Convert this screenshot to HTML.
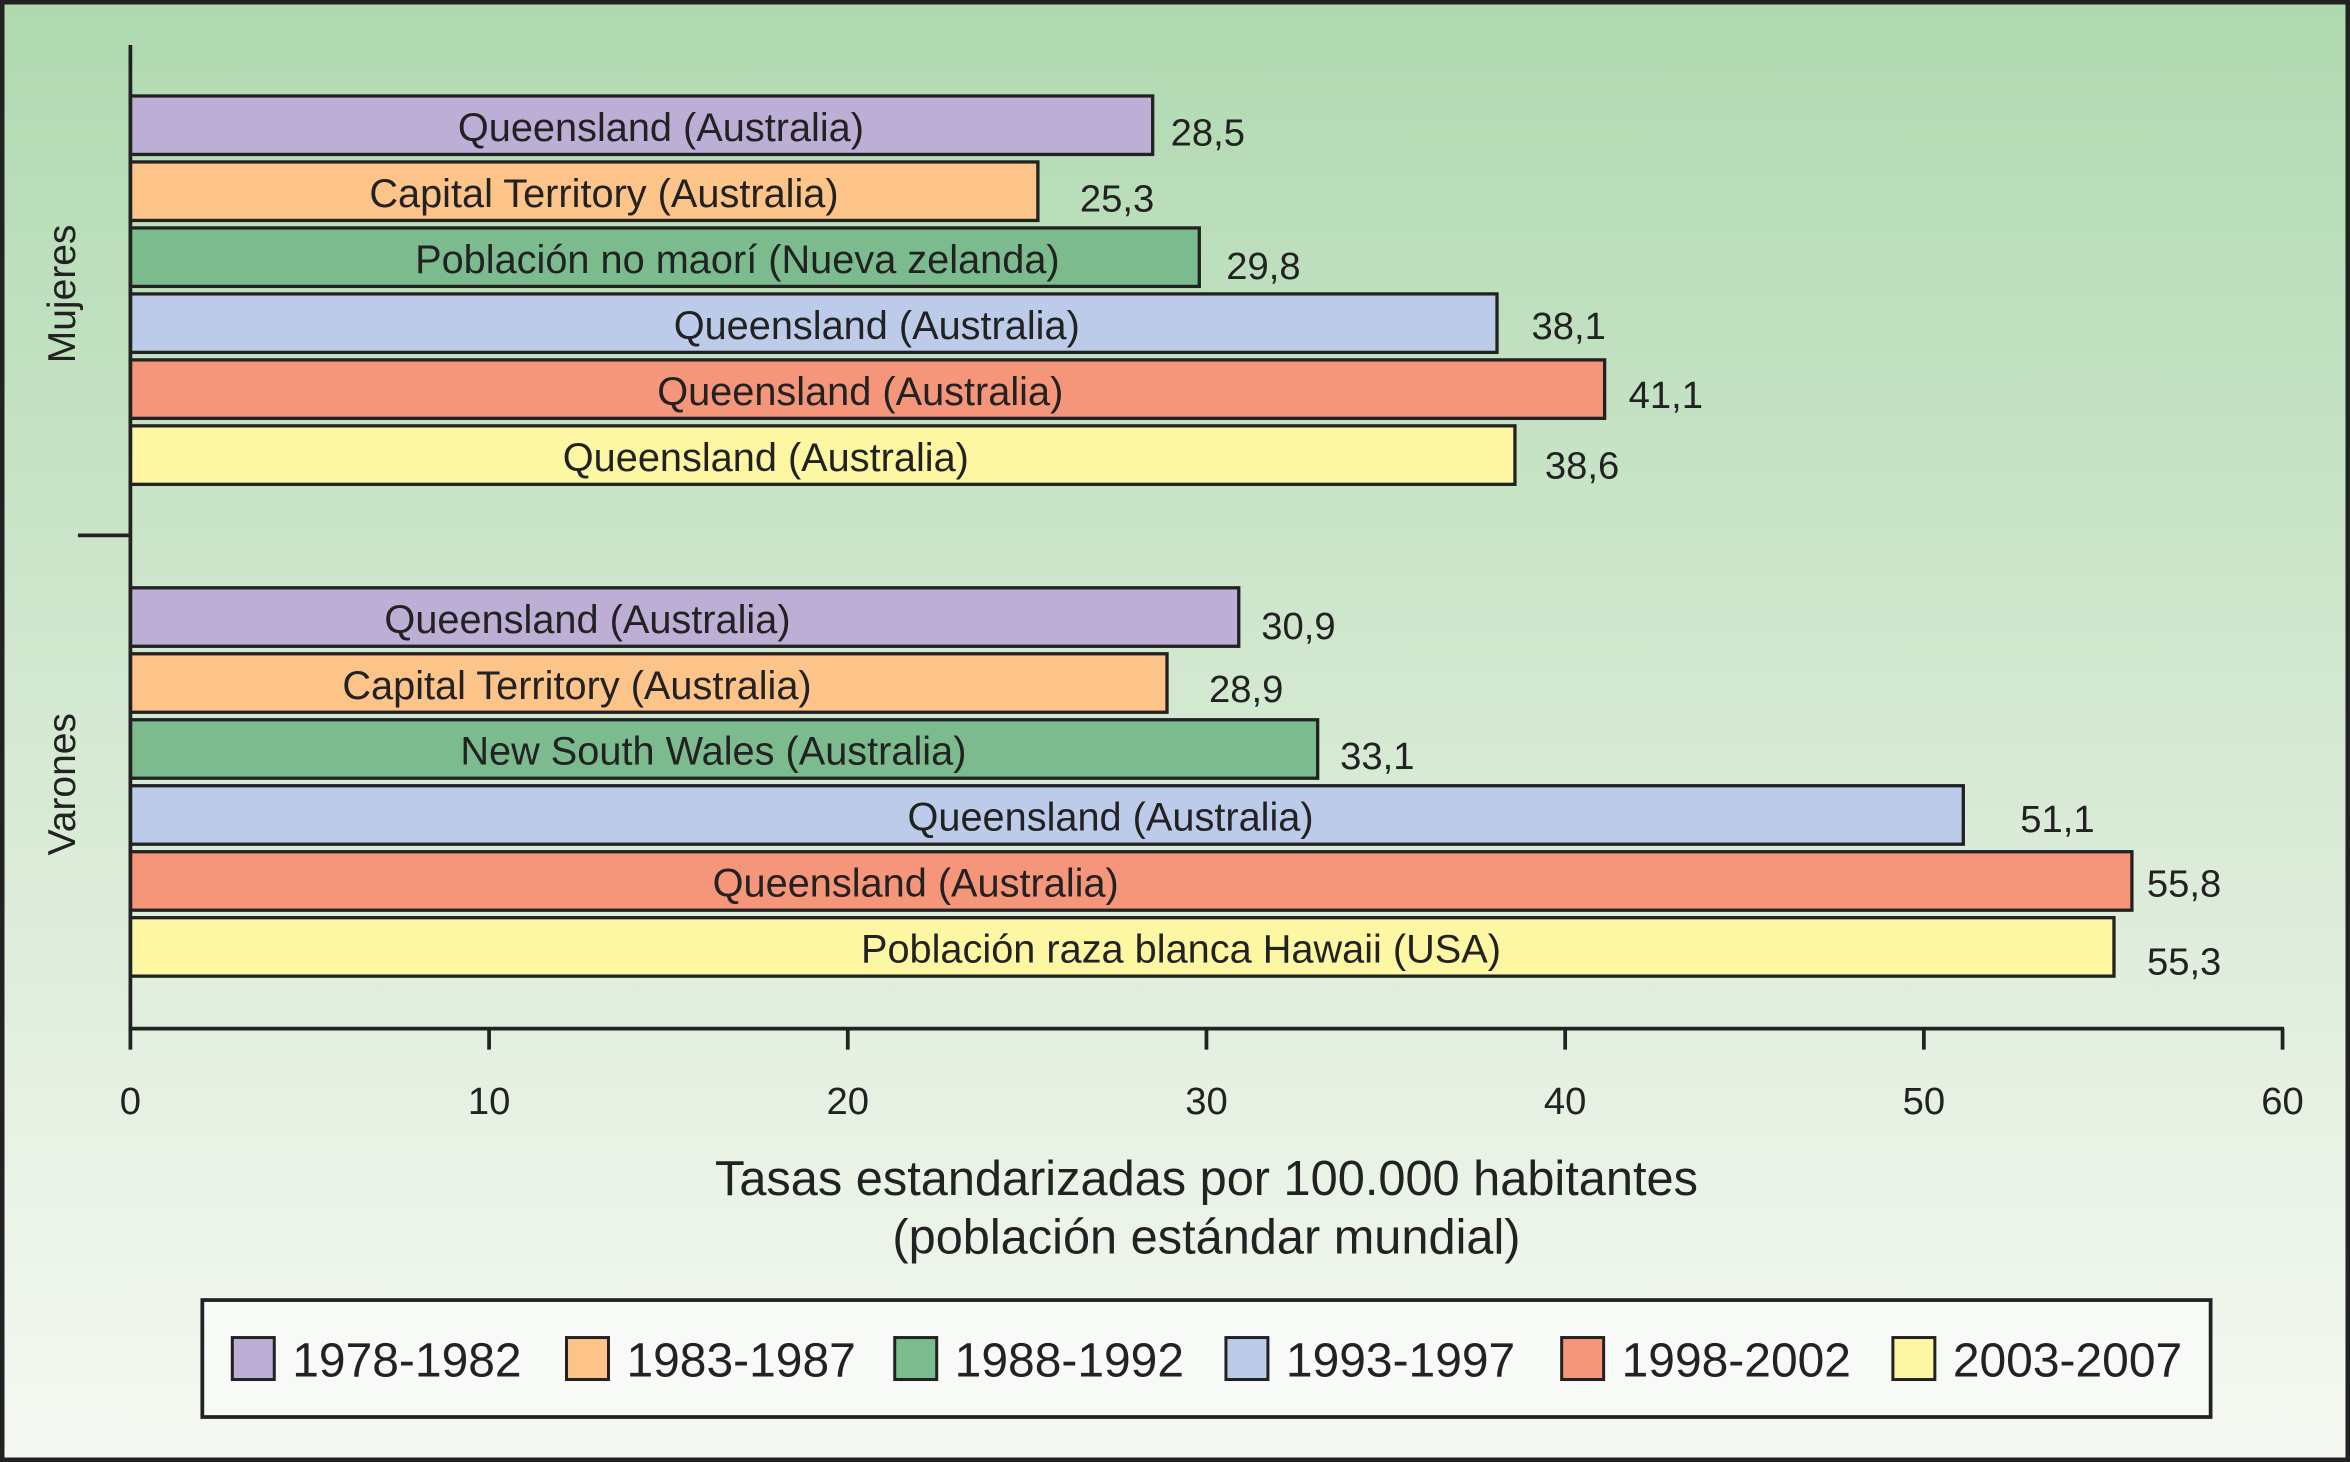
<!DOCTYPE html>
<html><head><meta charset="utf-8"><style>
html,body{margin:0;padding:0;width:2350px;height:1462px;overflow:hidden}
svg{display:block;font-family:"Liberation Sans",sans-serif}
</style></head><body>
<svg id="chart" width="2350" height="1462" viewBox="0 0 1568 975" preserveAspectRatio="none" xmlns="http://www.w3.org/2000/svg">
<defs><linearGradient id="bg" x1="0" y1="0" x2="0" y2="1">
<stop offset="0" stop-color="#afd9b0"/><stop offset="0.6" stop-color="#dcecd9"/><stop offset="1" stop-color="#f6f9f3"/></linearGradient></defs>
<rect x="1.5" y="1.5" width="1565" height="972" fill="url(#bg)" stroke="#222" stroke-width="3"/>
<g id="bars"></g>
<g id="axes" stroke="#222" stroke-width="2.5" fill="none">
<line x1="87" y1="30" x2="87" y2="687"/>
<line x1="52" y1="357" x2="87" y2="357"/>
<line x1="86" y1="686" x2="1524" y2="686"/>
</g>
<g id="ticks"></g>
<text transform="translate(50,196) rotate(-90)" text-anchor="middle" font-size="26" fill="#222">Mujeres</text>
<text transform="translate(50,523) rotate(-90)" text-anchor="middle" font-size="26" fill="#222">Varones</text>
<text x="805" y="797" text-anchor="middle" font-size="32.5" fill="#222">Tasas estandarizadas por 100.000 habitantes</text>
<text x="805" y="836" text-anchor="middle" font-size="32.5" fill="#222">(población estándar mundial)</text>
<rect x="135" y="867" width="1340" height="78" fill="#f7faf6" stroke="#222" stroke-width="2.5"/>
<g id="legend"></g>
</svg>
<script>
const periods=["1978-1982","1983-1987","1988-1992","1993-1997","1998-2002","2003-2007"];
const colors=["#bdaed6","#fdc48a","#7bbb8d","#bccbe9","#f5957a","#fdf6a2"];
const mujeresValues=[28.5,25.3,29.8,38.1,41.1,38.6];
const mujeresLabels=["Queensland (Australia)","Capital Territory (Australia)","Población no maorí (Nueva zelanda)","Queensland (Australia)","Queensland (Australia)","Queensland (Australia)"];
const varonesValues=[30.9,28.9,33.1,51.1,55.8,55.3];
const varonesLabels=["Queensland (Australia)","Capital Territory (Australia)","New South Wales (Australia)","Queensland (Australia)","Queensland (Australia)","Población raza blanca Hawaii (USA)"];
const xTicks=[0,10,20,30,40,50,60];
// label layout offsets (px, styling only)
const mujeresLabelCx=[441,403,492,585,574,511];
const varonesLabelCx=[392,385,476,741,611,788];
const mujeresValDx=[12,28,18,23,16,20];
const varonesValDx=[15,28,15,38,10,22];
const mujeresValDy=[4,4,5,1,3,6];
const varonesValDy=[5,3,4,2,1,9];
const NS="http://www.w3.org/2000/svg";
const x=v=>87+v*(1523-87)/60;
const bars=document.getElementById('bars');
function mk(t,a,p){const e=document.createElementNS(NS,t);for(const k in a)e.setAttribute(k,a[k]);p.appendChild(e);return e;}
function group(vals,labs,cx,dx,dy,y0,gname){
  vals.forEach((v,i)=>{
    const y=y0+i*44;
    const r=mk('rect',{x:87,y:y,width:x(v)-87,height:39,fill:colors[i],stroke:'#222','stroke-width':2.2},bars);
    
    
    const t=mk('text',{x:cx[i],y:y+30,'text-anchor':'middle','font-size':26.5,fill:'#222'},bars);
    t.textContent=labs[i];
    
    
    const vt=mk('text',{x:x(v)+dx[i],y:y+29+dy[i],'font-size':25.5,fill:'#222'},bars);
    vt.textContent=v.toFixed(1).replace('.',',');
    
    
  });
}
group(mujeresValues,mujeresLabels,mujeresLabelCx,mujeresValDx,mujeresValDy,64,'mujeres');
group(varonesValues,varonesLabels,varonesLabelCx,varonesValDx,varonesValDy,392,'varones');
const tk=document.getElementById('ticks');
xTicks.forEach(v=>{
  const l=mk('line',{x1:x(v),y1:686,x2:x(v),y2:700,stroke:'#222','stroke-width':2.5},tk);
  
  
  const t=mk('text',{x:x(v),y:743,'text-anchor':'middle','font-size':25.5,fill:'#222'},tk);
  t.textContent=v;
  
  
});
const lg=document.getElementById('legend');
const lx=[155,378,597,818,1042,1263];
periods.forEach((p,i)=>{
  const r=mk('rect',{x:lx[i],y:892,width:28,height:28,fill:colors[i],stroke:'#222','stroke-width':2},lg);
  
  
  const t=mk('text',{x:lx[i]+40,y:918,'font-size':32,fill:'#222'},lg);
  t.textContent=p;
  
  
});
</script>
</body></html>
